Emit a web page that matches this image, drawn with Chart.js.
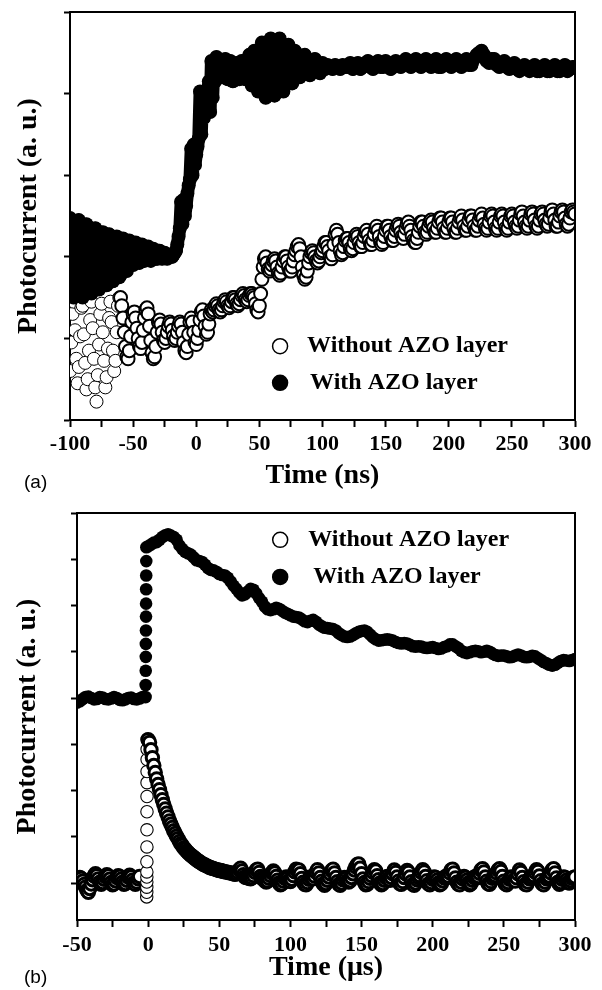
<!DOCTYPE html>
<html><head><meta charset="utf-8">
<script src="https://cdn.jsdelivr.net/npm/chart.js@4.4.0/dist/chart.umd.min.js"></script>
<style>
html,body{margin:0;padding:0;background:#fff;}
#wrap{position:relative;width:602px;height:990px;overflow:hidden;background:#fff;}
canvas{position:absolute;left:0;}
#ca{top:0;}
#cb{top:495px;}
.pl{position:absolute;font-family:"Liberation Sans",Arial,sans-serif;font-size:19px;color:#000;line-height:22px;}
</style></head>
<body><div id="wrap">
<canvas id="ca" width="602" height="495" style="width:602px;height:495px"></canvas>
<canvas id="cb" width="602" height="495" style="width:602px;height:495px"></canvas>
<div class="pl" style="left:24px;top:471px">(a)</div>
<div class="pl" style="left:24px;top:966px">(b)</div>
</div>
<script>
// ---------- Panel (a): time in ns ----------
const timeWithA = [
-100,-99,-98,-97,-96,-95,-94,-93,-92,-91,
-90,-89,-88,-87,-86,-85,-84,-83,-82,-81,
-80,-79,-78,-77,-76,-75,-74,-73,-72,-71,
-70,-69,-68,-67,-66,-65,-64,-63,-62,-61,
-60,-59,-58,-57,-56,-55,-54,-53,-52,-51,
-50,-49,-48,-47,-46,-45,-44,-43,-42,-41,
-40,-39,-38,-37,-36,-35,-34,-33,-32,-31,
-30,-29,-28,-27,-26,-25,-24,-23,-22,-21,
-20,-19,-18,-17,-16,-15,-14,-13,-12,-11,
-10,-9,-8,-7,-6,-5,-4,-3,-2,-1,
0,1,2,3,4,5,6,7,8,9,
10,11,12,13,14,15,16,17,18,19,
20,21,22,23,24,25,26,27,28,29,
30,31,32,33,34,35,36,37,38,39,
40,41,42,43,44,45,46,47,48,49,
50,51,52,53,54,55,56,57,58,59,
60,61,62,63,64,65,66,67,68,69,
70,71,72,73,74,75,76,77,78,79,
80,
82,84,86,88,90,92,94,96,98,100,
102,104,106,108,110,112,114,116,118,120,
122,124,126,128,130,132,134,136,138,140,
142,144,146,148,150,152,154,156,158,160,
162,164,166,168,170,172,174,176,178,180,
182,184,186,188,190,192,194,196,198,200,
202,204,206,208,210,212,214,216,218,220,
222,224,226,228,230,232,234,236,238,240,
242,244,246,248,250,252,254,256,258,260,
262,264,266,268,270,272,274,276,278,280,
282,284,286,288,290,292,294,296,298,300
];
// With AZO layer (a)
const withA = [
49.5,43,36,30,33,40,47,49,42,35.5,
30,34,41,48,46,39,33,31,37,44,
47,41,35,32,38.5,45,46,40,34.5,33,
39,45.5,43,37,34,36,42,45,40,35,
35.5,41,44.5,42,37,36.5,40,44,42.5,38.5,
38,41,43.5,42,39,38.5,41.5,43,41,39,
39.5,42,42.5,40.5,39,40,42,41.5,39.5,39.5,
41.5,41.5,40,39.5,40.5,41,40,39.5,40.5,40.5,
40,
40,40.5,41,41.5,43,45,47,53.5,48,54,
50,52.5,55.5,57.5,59,66.5,60,67.5,62.5,65,
67,69,80.5,70,79,74,76.5,78,80,83,
75.5,88,79,87,83,89,85,88,84,87.5,
84,86.5,88.5,85,83.5,86,88,86.5,83,84.5,
87,87.5,85,83.5,85.5,88,87,84,83.5,86.5,
88.5,
89.5,85,82,86.5,90.5,88,83,80.5,84,89,
92.5,88.5,83,79,82,87,92,93.5,89.5,84.5,
79.5,81.5,86,91,93.5,90,85,80.5,82.5,87,
91.5,92,88,83.5,82.5,86,90.5,90,86,
84,88.5,89.5,85,84.5,87.5,88.5,86,85,87.5,
86,87,86.5,86,87,86.5,86,87,86.5,86.5,
87.5,86,86.5,87.5,86,86.5,87.5,88,86.5,86,
87.5,88,86.5,86.5,88,87.5,86,86.5,88,87,
86.5,87.5,88.5,87,86.5,88,88.5,87,86.5,88,
88.5,87,86.5,88,88.5,86.5,86.5,88,88.5,87,
86.5,88,88.5,87,86.5,88,88.5,87,87,88.5,
89.5,90,90.5,89.5,88,87.5,88.5,88.5,87,86.5,
87.5,88,86.5,86,87,87.5,86,85.5,86.5,87,
86,85.5,86.5,87,85.5,85.5,86.5,87,85.5,85.5,
86.5,87,85.5,85.5,86.5,87,85.5,86,86.5,86.5
];
const timeWithoutA = [
-100,-99,-98,-97,-96,-95,-94,-93,-92,-91,
-90,-89,-88,-87,-86,-85,-84,-83,-82,-81,
-80,-79,-78,-77,-76,-75,-74,-73,-72,-71,
-70,-69,-68,-67,-66,-65,-64,-63,-62,-61,
-60,-59,-58,-57,-56,-55,-54,-53,-52,-51,
-50,-49,-48,-47,-46,-45,-44,-43,-42,-41,
-40,-39,-38,-37,-36,-35,-34,-33,-32,-31,
-30,-29,-28,-27,-26,-25,-24,-23,-22,-21,
-20,-19,-18,-17,-16,-15,-14,-13,-12,-11,
-10,-9,-8,-7,-6,-5,-4,-3,-2,-1,
0,1,2,3,4,5,6,7,8,9,
10,11,12,13,14,15,16,17,18,19,
20,21,22,23,24,25,26,27,28,29,
30,31,32,33,34,35,36,37,38,39,
40,41,42,43,44,45,46,47,48,49,
50,51,52,53,54,55,56,57,58,59,
60,61,62,63,64,65,66,67,68,69,
70,71,72,73,74,75,76,77,78,79,
80,81,82,83,84,85,86,87,88,89,
90,91,92,93,94,95,96,97,98,99,
100,101,102,103,104,105,106,107,108,109,
110,111,112,113,114,115,116,117,118,119,
120,121,122,123,124,125,126,127,128,129,
130,131,132,133,134,135,136,137,138,139,
140,141,142,143,144,145,146,147,148,149,
150,151,152,153,154,155,156,157,158,159,
160,161,162,163,164,165,166,167,168,169,
170,171,172,173,174,175,176,177,178,179,
180,181,182,183,184,185,186,187,188,189,
190,191,192,193,194,195,196,197,198,199,
200,201,202,203,204,205,206,207,208,209,
210,211,212,213,214,215,216,217,218,219,
220,221,222,223,224,225,226,227,228,229,
230,231,232,233,234,235,236,237,238,239,
240,241,242,243,244,245,246,247,248,249,
250,251,252,253,254,255,256,257,258,259,
260,261,262,263,264,265,266,267,268,269,
270,271,272,273,274,275,276,277,278,279,
280,281,282,283,284,285,286,287,288,289,
290,291,292,293,294,295,296,297,298,299,
300
];
// Without AZO layer (a)
const withoutA = [
12,19,26,29,22,15,9,13,20.5,27.5,
28,21,14,7.5,10,17,24.5,29,22.5,15,
8,4.5,11,18.5,26,28.5,21.5,14.5,8,10.5,
17.5,25,29,24,17,12,14.5,21.5,28,30,
30,28,25,21.5,18,15.5,15,17,20.5,24,
26,26.5,25,22.5,20,18,17.5,19,22,25,
27,27.5,26,23,19.5,16.5,15,15.5,18,21.5,
24,24.5,23.5,21.5,19.5,19,20,21.5,23,24,
23.5,22,20.5,19.5,20,21.5,23,24,23.5,21.5,
19,17,16.5,18,21,24,25,24,21.5,19,
18.5,20,22,24.5,26.5,27,25.5,23,21,21.5,
23.5,26,27,26.5,27,28,28.5,28,27,26.5,
27,28,29,29.5,29,28,27.5,28,29,30,
30,29.5,28.5,28,28.5,29.5,30.5,31,30.5,29.5,
29,29.5,30.5,31,31,30.5,30,28.5,27,26.5,
28,31,34.5,37.5,39.5,40,38.5,37,36.5,37,
38,39,39.5,39,37.5,36,35.5,36,37.5,39,
40,40,39,37.5,36.5,36.5,37.5,39,40.5,41.5,
42.5,43,42,40,37.5,35.5,34.5,35,36.5,38.5,
40,41,41.5,41,40,39,38.5,39,40,41,
41.5,42.5,43.5,43.5,42.5,41.5,40,39.5,40.5,43,
45.5,46.5,45.5,43.5,41.5,40.5,41,42.5,44,44.5,
44.5,43.5,42,41.5,42,43.5,45,45.5,45,43.5,
42.5,42.5,43.5,45,46,46.5,45.5,44,43,43,
44,45.5,47,47.5,46.5,45,43.5,43,43.5,45,
46.5,47.5,47.5,46.5,45,44,44,45,46.5,47.5,
48,47.5,46,45,44.5,45.5,47,48,48.5,47.5,
46.5,45,44,43.5,43.5,44.5,46,47.5,48.5,48.5,
47.5,46,45.5,46,47.5,48.5,49,48.5,47,46,
46,47,48.5,49.5,49.5,48.5,47,46,46,47,
48.5,49.5,49.5,48.5,47,46,46,47,48.5,49.5,
50,49,47.5,46.5,46.5,47.5,49,50,50,49,
47.5,46.5,46.5,47.5,49,50,50.5,49.5,48,47,
46.5,47,48.5,50,50.5,50,48.5,47,46.5,47,
48.5,50,50.5,50,48.5,47,46.5,47,48.5,50,
50.5,50,48.5,47.5,47,47.5,49,50.5,51,50,
48.5,47.5,47,47.5,49,50.5,51,50.5,49,47.5,
47,47.5,49,50.5,51,50.5,49,48,47.5,48,
49.5,51,51.5,50.5,49,47.5,47.5,48.5,50,51,
51.5,51,49.5,48,47.5,48,49.5,51,51.5,51,
50.5
];

// ---------- Panel (b): time in microseconds ----------
const timeWithB = [
-50,-48,-46,-44,-42,-40,-38,-36,-34,-32,-30,-28,-26,-24,-22,-20,-18,-16,-14,-12,-10,-8,-6,-4,
-1.8,-1.75,-1.7,-1.65,-1.6,-1.55,-1.5,-1.45,-1.4,-1.35,-1.3,-1.25,
0,2,4,6,8,10,12,14,16,18,
20,22,24,26,28,30,32,34,36,38,
40,42,44,46,48,50,52,54,56,58,
60,62,64,66,68,70,72,74,76,78,
80,82,84,86,88,90,92,94,96,98,
100,102,104,106,108,110,112,114,116,118,
120,122,124,126,128,130,132,134,136,138,
140,142,144,146,148,150,152,154,156,158,
160,162,164,166,168,170,172,174,176,178,
180,182,184,186,188,190,192,194,196,198,
200,202,204,206,208,210,212,214,216,218,
220,222,224,226,228,230,232,234,236,238,
240,242,244,246,248,250,252,254,256,258,
260,262,264,266,268,270,272,274,276,278,
280,282,284,286,288,290,292,294,296,298,
300
];
const withB = [
39,39.3,39.8,40.2,40.3,40,39.7,39.8,40.2,40.1,39.8,39.7,39.9,40.2,40,39.6,39.5,39.7,40,40.1,39.8,39.7,39.9,40.2,
40.2,42.8,45.9,48.9,51.7,54.6,57.6,60.4,63.5,66.5,69.6,72.6,
72.8,73.2,73.6,73.7,74.2,74.8,75.2,75.4,75.1,74.8,
74.2,73.0,72.2,71.6,71.3,71.0,70.4,69.8,69.6,69.4,
68.8,68.1,67.7,67.6,67.3,66.8,66.6,66.5,66.0,65.2,
64.3,63.6,62.8,62.2,62.4,63.0,63.6,63.4,62.6,61.6,
60.8,59.8,59.2,59.0,59.2,59.5,59.3,58.9,58.5,58.2,
57.9,57.6,57.5,57.4,57.0,56.6,56.4,56.7,56.9,56.5,
55.9,55.5,55.2,55.1,55.0,54.9,54.6,54.0,53.6,53.3,
53.2,53.3,53.6,54.0,54.3,54.5,54.6,54.3,53.7,53.1,
52.7,52.4,52.5,52.6,52.7,52.6,52.4,52.1,51.9,51.8,
51.9,51.8,51.5,51.2,51.1,51.2,51.1,50.9,50.8,50.9,
51.0,50.8,50.6,50.7,51.0,51.2,51.6,51.6,51.2,50.8,
50.2,49.9,49.7,49.9,50.1,50.2,50.1,49.9,50.0,50.2,
50.0,49.6,49.3,49.1,49.2,49.2,49.0,48.8,48.9,49.2,
49.4,49.2,48.9,48.8,48.9,49.1,49.0,48.6,48.2,47.8,
47.5,47.2,47.0,47.2,47.6,48.0,48.2,48.1,48.0,48.2,
48.4
];
const timeWithoutB = [
-50,-49,-48,-47,-46,-45,-44,-43,-42,-41,
-40,-39,-38,-37,-36,-35,-34,-33,-32,-31,
-30,-29,-28,-27,-26,-25,-24,-23,-22,-21,
-20,-19,-18,-17,-16,-15,-14,-13,-12,-11,
-10,-9,-8,-7,-6,
-1,-0.98,-0.96,-0.94,-0.92,-0.9,-0.88,-0.86,-0.84,-0.82,-0.8,-0.78,-0.76,-0.74,-0.72,-0.7,
0,1,2,3,4,5,6,7,8,9,
10,11,12,13,14,15,16,17,18,19,
20,21,22,23,24,25,26,27,28,29,
30,31,32,33,34,35,36,37,38,39,
40,41,42,43,44,45,46,47,48,49,
50,51,52,53,54,55,56,57,58,59,
60,61,62,63,64,65,66,67,68,69,
70,71,72,73,74,75,76,77,78,79,
80,81,82,83,84,85,86,87,88,89,
90,91,92,93,94,95,96,97,98,99,
100,101,102,103,104,105,106,107,108,109,
110,111,112,113,114,115,116,117,118,119,
120,121,122,123,124,125,126,127,128,129,
130,131,132,133,134,135,136,137,138,139,
140,141,142,143,144,145,146,147,148,149,
150,151,152,153,154,155,156,157,158,159,
160,161,162,163,164,165,166,167,168,169,
170,171,172,173,174,175,176,177,178,179,
180,181,182,183,184,185,186,187,188,189,
190,191,192,193,194,195,196,197,198,199,
200,201,202,203,204,205,206,207,208,209,
210,211,212,213,214,215,216,217,218,219,
220,221,222,223,224,225,226,227,228,229,
230,231,232,233,234,235,236,237,238,239,
240,241,242,243,244,245,246,247,248,249,
250,251,252,253,254,255,256,257,258,259,
260,261,262,263,264,265,266,267,268,269,
270,271,272,273,274,275,276,277,278,279,
280,281,282,283,284,285,286,287,288,289,
290,291,292,293,294,295,296,297,298,299,
300
];
const withoutB = [
0.3,0.8,1.2,1.0,0.4,-0.3,-0.9,-1.6,-2.0,-1.2,
-0.2,0.7,1.5,2.0,1.6,0.9,0.2,-0.3,0.1,0.8,
1.4,1.8,1.5,0.8,0.1,-0.4,-0.2,0.5,1.2,1.6,
1.4,0.8,0.2,-0.3,-0.1,0.6,1.3,1.7,1.3,0.6,
0.0,-0.3,0.2,0.9,1.4,
-3.0,-2.0,-0.9,0.2,1.3,2.4,4.6,7.8,11.5,15.4,18.7,21.7,24.1,26.7,28.9,31.1,
31.0,30.4,28.8,27.1,25.4,23.9,22.5,21.3,20.2,19.1,
18.0,17.0,16.0,15.1,14.3,13.4,12.7,12.0,11.3,10.7,
10.1,9.6,9.0,8.5,8.1,7.6,7.3,6.9,6.6,6.3,
6.0,5.8,5.5,5.3,5.0,4.8,4.6,4.4,4.2,4.0,
3.9,3.7,3.6,3.4,3.3,3.2,3.1,3.0,2.9,2.8,
2.7,2.7,2.6,2.5,2.4,2.4,2.3,2.2,2.2,2.1,
2.0,1.9,2.0,2.4,2.9,3.2,2.6,1.8,1.3,1.2,
1.1,1.0,0.9,1.1,1.6,2.3,2.8,3.0,2.3,1.4,
1.0,0.9,0.5,0.2,0.4,1.0,1.6,2.2,2.6,2.2,
1.4,0.6,0.0,-0.4,-0.2,0.4,1.0,1.3,1.0,0.5,
0.3,0.8,1.6,2.4,3.0,2.6,2.8,2.0,1.0,0.2,
-0.3,-0.4,0.1,0.8,1.3,1.1,0.9,1.5,2.3,2.9,
2.2,1.2,0.4,-0.2,-0.5,-0.1,0.6,1.3,2.0,2.7,
3.0,2.2,1.2,0.3,-0.3,-0.5,0.0,0.7,1.2,1.0,
0.5,0.2,0.5,1.2,2.0,2.8,3.5,4.0,4.1,3.2,
2.0,0.9,0.1,-0.4,-0.3,0.3,1.0,1.6,2.3,2.9,
2.6,1.6,0.7,0.0,-0.4,-0.1,0.6,1.2,1.4,1.0,
0.6,1.2,2.0,2.8,2.3,1.3,0.4,-0.2,-0.3,0.3,
1.2,2.0,2.7,2.3,1.3,0.3,-0.3,-0.5,0.0,0.7,
1.2,1.6,2.3,2.9,2.4,1.4,0.5,-0.2,-0.4,0.1,
0.8,1.3,1.2,0.6,0.0,-0.4,-0.2,0.5,1.1,1.4,
1.2,1.5,2.2,2.8,3.0,2.2,1.1,0.2,-0.3,-0.4,
0.2,0.9,1.4,1.2,0.6,0.0,-0.4,-0.1,0.6,1.2,
1.4,1.1,1.4,2.1,2.8,3.1,2.4,1.3,0.4,-0.2,
-0.3,0.3,1.0,1.4,1.6,2.2,2.8,3.1,2.5,1.4,
0.4,-0.2,-0.4,0.1,0.8,1.3,1.2,0.6,0.4,1.1,
2.0,2.8,2.3,1.2,0.3,-0.3,-0.4,0.2,0.9,1.3,
1.2,1.6,2.3,2.9,2.5,1.5,0.5,-0.2,-0.4,0.2,
0.9,1.3,1.5,2.2,2.9,3.1,2.2,1.1,0.2,-0.3,
0.1,0.8,1.3,1.2,0.6,0.1,0.0,0.5,1.0,1.2,
1.3
];

const ticksA_x = {min:-100, max:300, step:25, labelEvery:50};
const ticksB_x = {min:-50, max:300, step:25, labelEvery:50};
const labels = ['Without AZO layer', 'With AZO layer'];

// ---------- helpers ----------
const SERIF = '"Liberation Serif","Times New Roman",serif';
Chart.defaults.font.family = SERIF;
Chart.defaults.color = '#000';

function pts(xs, ys){ return xs.map((x,i)=>({x:x, y:ys[i]})); }

const framePlugin = {
  id:'frame',
  afterDraw(chart){
    const {ctx, chartArea:a} = chart;
    ctx.save();
    ctx.strokeStyle = '#000'; ctx.lineWidth = 2;
    ctx.beginPath();
    ctx.moveTo(a.left, a.top); ctx.lineTo(a.right, a.top); ctx.lineTo(a.right, a.bottom);
    ctx.stroke();
    ctx.restore();
  }
};
const boxLegend = {
  id:'boxLegend',
  afterDraw(chart, args, opts){
    const {ctx, chartArea:a} = chart;
    ctx.save();
    ctx.font = 'bold 24px ' + SERIF;
    ctx.textBaseline = 'middle';
    opts.items.forEach(it=>{
      const ds = chart.data.datasets[it.ds];
      const x = a.left + it.fx*a.width, y = a.top + it.fy*a.height;
      ctx.beginPath();
      ctx.arc(x, y, 7.5, 0, Math.PI*2);
      ctx.fillStyle = ds.pointBackgroundColor; ctx.fill();
      ctx.lineWidth = 1.5; ctx.strokeStyle = '#000'; ctx.stroke();
      ctx.fillStyle = '#000';
      ctx.fillText(ds.label, x + it.dx, y);
    });
    ctx.restore();
  }
};

function makeChart(canvasId, cfg){
  const tx = cfg.tx;
  return new Chart(document.getElementById(canvasId), {
    type:'scatter',
    data:{ datasets:[
      { label: labels[1], data: pts(cfg.tWith, cfg.vWith), pointRadius: cfg.rWith, pointHoverRadius: cfg.rWith,
        pointBackgroundColor:'#000', pointBorderColor:'#000', pointBorderWidth:0,
        showLine: cfg.lineWith > 0, borderColor:'#000', borderWidth: cfg.lineWith,
        borderJoinStyle:'round', borderCapStyle:'round', tension:0, fill:false, clip:0 },
      { label: labels[0], data: pts(cfg.tWithout, cfg.vWithout), pointRadius: cfg.rWithout, pointHoverRadius: cfg.rWithout,
        pointBackgroundColor:'#fff', pointBorderColor:'#000',
        pointBorderWidth: (c)=> {
          const x = c.raw ? c.raw.x : 0;
          return (x >= cfg.thinFrom && x <= cfg.thinTo) ? cfg.bwThin : cfg.bwDense;
        },
        showLine:false, clip:0 }
    ]},
    options:{
      responsive:false, animation:false, devicePixelRatio:1,
      events:[],
      layout:{ padding:{ top:cfg.padTop, right:27, left:0, bottom:0 } },
      plugins:{ legend:{display:false}, tooltip:{enabled:false},
        boxLegend:{ items: cfg.legend } },
      scales:{
        x:{ type:'linear', min:tx.min, max:tx.max, z:1,
          ticks:{ stepSize:tx.step, autoSkip:false, maxRotation:0, minRotation:0, padding:cfg.xTickPad,
            font:{family:SERIF, size:22, weight:'bold'}, color:'#000',
            callback:(v)=> (Math.abs(v % tx.labelEvery) < 1e-9 ? String(v) : '') },
          grid:{ display:true, drawOnChartArea:false, drawTicks:true, tickLength:7, tickWidth:2, tickColor:'#000' },
          border:{ display:true, width:2, color:'#000' },
          title:{ display:true, text:cfg.xTitle, color:'#000', font:{family:SERIF, size:28, weight:'bold'}, padding:{top:0, bottom:cfg.xTitlePad} },
          afterFit:(s)=>{ s.height = cfg.xHeight; }
        },
        y:{ type:'linear', min:cfg.yMin, max:cfg.yMax, z:1,
          ticks:{ stepSize:cfg.yStep, includeBounds:false, callback:()=> '' },
          grid:{ display:true, drawOnChartArea:false, drawTicks:true, tickLength:6, tickWidth:2, tickColor:'#000' },
          border:{ display:true, width:2, color:'#000' },
          title:{ display:true, text:'Photocurrent (a. u.)', color:'#000', font:{family:SERIF, size:28, weight:'bold'}, padding:{top:cfg.yTitlePad, bottom:0} },
          afterFit:(s)=>{ s.width = cfg.yWidth; }
        }
      }
    },
    plugins:[framePlugin, boxLegend]
  });
}

makeChart('ca', {
  tWith: timeWithA, vWith: withA, tWithout: timeWithoutA, vWithout: withoutA,
  rWith: 7, rWithout: 6.5, lineWith: 13,
  thinFrom: -100, thinTo: -61, bwThin: 1, bwDense: 2,
  tx: ticksA_x, padTop: 12, xTickPad: 4, xTitle: 'Time (ns)', xTitlePad: 2, xHeight: 75,
  yMin: 0, yMax: 100, yStep: 20, yTitlePad: 12, yWidth: 70,
  legend: [ {ds:1, fx:0.416, fy:0.819, dx:27}, {ds:0, fx:0.416, fy:0.909, dx:30} ]
});
makeChart('cb', {
  tWith: timeWithB, vWith: withB, tWithout: timeWithoutB, vWithout: withoutB,
  rWith: 6.3, rWithout: 6.2, lineWith: 0,
  thinFrom: -1.5, thinTo: -0.5, bwThin: 1.1, bwDense: 3,
  tx: ticksB_x, padTop: 18, xTickPad: 5, xTitle: 'Time (\u03bcs)', xTitlePad: 5, xHeight: 70,
  yMin: -8, yMax: 80, yStep: 10, yTitlePad: 11, yWidth: 77,
  legend: [ {ds:1, fx:0.408, fy:0.066, dx:28}, {ds:0, fx:0.408, fy:0.157, dx:33} ]
});
</script>
</body></html>
